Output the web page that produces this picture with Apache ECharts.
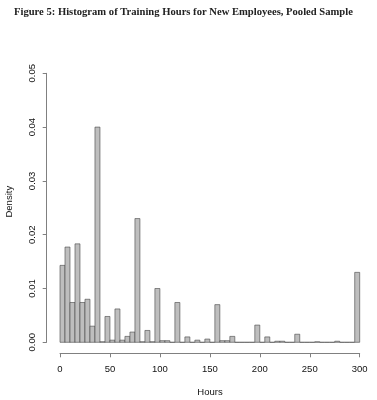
<!DOCTYPE html>
<html>
<head>
<meta charset="utf-8">
<script src="https://cdn.jsdelivr.net/npm/echarts@6/dist/echarts.min.js"></script>
<style>
html,body{margin:0;padding:0;background:#fff;}
#c{width:377px;height:400px;}
</style>
</head>
<body>
<div id="c"></div>
<script>
// Bin edges (hours), width 5
const binStarts = [0,5,10,15,20,25,30,35,40,45,50,55,60,65,70,75,80,85,90,95,
  100,105,110,115,120,125,130,135,140,145,150,155,160,165,170,175,180,185,190,195,
  200,205,210,215,220,225,230,235,240,245,250,255,260,265,270,275,280,285,290,295];
const binWidth = 5;
// Density per bin
const density = [0.0143,0.0177,0.0074,0.0183,0.0074,0.0080,0.0030,0.0400,0.0001,0.0048,
  0.0004,0.0062,0.0004,0.0011,0.0019,0.0230,0.0001,0.0022,0.0001,0.0100,
  0.0003,0.0003,0,0.0074,0,0.0010,0,0.0004,0,0.0006,
  0,0.0070,0.0003,0.0003,0.0011,0,0,0,0,0.0032,
  0,0.0010,0,0.0002,0.0002,0,0,0.0015,0,0,
  0,0.0001,0,0,0,0.0002,0,0,0,0.0130];
const xTicks = [0,50,100,150,200,250,300];
const yTicks = [0,0.01,0.02,0.03,0.04,0.05];

const data = binStarts.map((s,i)=>[s, s+binWidth, density[i]]);

const chart = echarts.init(document.getElementById('c'), null, {renderer:'canvas'});
chart.setOption({
  animation:false,
  backgroundColor:'#fff',
  title:{
    text:'Figure 5: Histogram of Training Hours for New Employees, Pooled Sample',
    left:9, top:2,
    textStyle:{fontFamily:'Liberation Serif', fontWeight:'bold', fontSize:10.6, color:'#222'}
  },
  grid:{left:60, right:17.3, top:73.3, bottom:57.7, containLabel:false},
  xAxis:{
    type:'value', min:0, max:300, interval:50, offset:11,
    axisLine:{show:true, onZero:false, lineStyle:{color:'#808080', width:1}},
    axisTick:{show:true, length:4, lineStyle:{color:'#808080'}},
    axisLabel:{show:true, margin:11, fontFamily:'Liberation Sans', fontSize:9.5, color:'#111',
      formatter:v=>xTicks.includes(v)?String(v):''},
    splitLine:{show:false}
  },
  yAxis:{
    type:'value', min:0, max:0.05, interval:0.01, offset:13.3,
    axisLine:{show:true, onZero:false, lineStyle:{color:'#808080', width:1}},
    axisTick:{show:true, length:4, lineStyle:{color:'#808080'}},
    axisLabel:{show:true, rotate:90, margin:9, fontFamily:'Liberation Sans', fontSize:9.5, color:'#111',
      formatter:v=>{const t=yTicks.find(y=>Math.abs(y-v)<1e-9); return t===undefined?'':t.toFixed(2);}},
    splitLine:{show:false}
  },
  graphic:[
    {type:'text', x:9.3, y:201.7, rotation:Math.PI/2,
      style:{text:'Density', fontFamily:'Liberation Sans', fontSize:9.5, fill:'#111', align:'center', verticalAlign:'middle'}},
    {type:'text', x:210, y:392,
      style:{text:'Hours', fontFamily:'Liberation Sans', fontSize:9.5, fill:'#111', align:'center', verticalAlign:'middle'}}
  ],
  series:[{
    type:'custom',
    data:data,
    encode:{x:[0,1], y:2},
    clip:false,
    renderItem:function(params, api){
      const p0 = api.coord([api.value(0), api.value(2)]);
      const p1 = api.coord([api.value(1), 0]);
      return {
        type:'rect',
        shape:{x:p0[0], y:p0[1], width:p1[0]-p0[0], height:p1[1]-p0[1]},
        style:{fill:'#bebebe', stroke:'#444', lineWidth:0.6}
      };
    }
  }]
});
</script>
</body>
</html>
